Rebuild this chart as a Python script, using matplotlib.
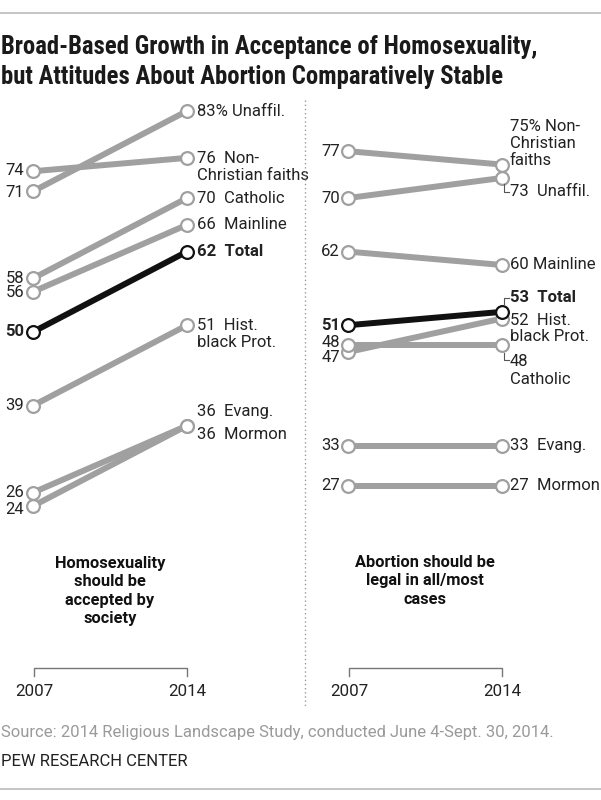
import matplotlib
matplotlib.use("Agg")
import matplotlib.pyplot as plt
from matplotlib import font_manager as fm
from matplotlib.lines import Line2D

# ---------------- data ----------------
years = [2007, 2014]

homo_groups = ["Unaffil.", "Non-Christian faiths", "Catholic", "Mainline", "Total",
               "Hist. black Prot.", "Evang.", "Mormon"]
homo_2007 = [71, 74, 58, 56, 50, 39, 26, 24]
homo_2014 = [83, 76, 70, 66, 62, 51, 36, 36]

abort_groups = ["Non-Christian faiths", "Unaffil.", "Mainline", "Total",
                "Hist. black Prot.", "Catholic", "Evang.", "Mormon"]
abort_2007 = [77, 70, 62, 51, 47, 48, 33, 27]
abort_2014 = [75, 73, 60, 53, 52, 48, 33, 27]

title = "Broad-Based Growth in Acceptance of Homosexuality,\nbut Attitudes About Abortion Comparatively Stable"
left_caption = "Homosexuality\nshould be\naccepted by\nsociety"
right_caption = "Abortion should be\nlegal in all/most\ncases"
source = "Source: 2014 Religious Landscape Study, conducted June 4-Sept. 30, 2014."
credit = "PEW RESEARCH CENTER"

# ---------------- fonts ----------------
weights = {}
for f in fm.fontManager.ttflist:
    if f.style == "normal":
        weights.setdefault(f.name, set()).add(f.weight if isinstance(f.weight, int) else 400)

def pick(cands):
    for c in cands:
        ws = weights.get(c, set())
        if 400 in ws and any(w >= 700 for w in ws):
            return c
    return "DejaVu Sans"

cond = pick(["Roboto Condensed", "Archivo Narrow", "Fira Sans Condensed", "IBM Plex Sans Condensed",
             "Barlow Semi Condensed", "PT Sans Narrow", "Encode Sans Condensed", "Asap Condensed",
             "Liberation Sans Narrow", "Roboto"])
body = pick(["Libre Franklin", "Public Sans", "Franklin Gothic Book", "Roboto"])
heavy = body

GRAY = "#a0a0a0"
DARK = "#222222"
W, H = 601, 800
fig = plt.figure(figsize=(W / 100, H / 100), dpi=100)
renderer = fig.canvas.get_renderer()

def fit_size(s, family, weight, target_px, base=12.0):
    t = fig.text(0, 0, s, fontsize=base, family=family, fontweight=weight)
    w = t.get_window_extent(renderer).width
    t.remove()
    return base * target_px / w

def fx(px):
    return px / W

def fy(py):
    return 1 - py / H

# axes: 2007->px x0, 2014->px x1; value 83 -> py 111, value 24 -> py 506
def make_ax(x0, x1):
    ax = fig.add_axes([fx(x0), fy(506), (x1 - x0) / W, (506 - 111) / H])
    ax.set_xlim(2007, 2014)
    ax.set_ylim(24, 83)
    ax.axis("off")
    return ax

axL = make_ax(33, 187)
axR = make_ax(348, 502)

def draw(ax, v07, v14, groups):
    order = [i for i, g in enumerate(groups) if g != "Total"] + [groups.index("Total")]
    for i in order:
        c = "#111111" if groups[i] == "Total" else GRAY
        z = 5 if groups[i] == "Total" else 3
        ax.plot(years, [v07[i], v14[i]], color=c, lw=4.3, solid_capstyle="butt",
                marker="o", ms=9.2, mfc="white", mec=c, mew=1.6, zorder=z, clip_on=False)

draw(axL, homo_2007, homo_2014, homo_groups)
draw(axR, abort_2007, abort_2014, abort_groups)

FS = fit_size("83% Unaffil.", body, "normal", 88)

def lab(ax, x, y, s, dx, dy, ha="left", bold=False, **kw):
    ax.annotate(s, (x, y), xytext=(dx, -dy), textcoords="offset pixels",
                ha=ha, va="center", fontsize=FS, color=DARK, family=body,
                fontweight="bold" if bold else "normal", annotation_clip=False, **kw)

# left panel, 2007 labels (pixel y-offsets)
left07_dy = [1, -1, 0, 1, 0, 0, 0, 4]
for v, g, d in zip(homo_2007, homo_groups, left07_dy):
    lab(axL, 2007, v, str(v), -9, d, ha="right", bold=(g == "Total"))

# left panel, 2014 labels
left14 = [("83% Unaffil.", 0), ("76  Non-\nChristian faiths", 9), ("70  Catholic", 0),
          ("66  Mainline", 0), ("62  Total", 0), ("51  Hist.\nblack Prot.", 9),
          ("36  Evang.", -14), ("36  Mormon", 9)]
for v, g, (s, d) in zip(homo_2014, homo_groups, left14):
    lab(axL, 2014, v, s, 10, d, bold=(g == "Total"), linespacing=1.15)

# right panel, 2007 labels
right07_dy = [0, 0, 0, 0, 5, -3, 0, 0]
for v, g, d in zip(abort_2007, abort_groups, right07_dy):
    lab(axR, 2007, v, str(v), -8, d, ha="right", bold=(g == "Total"))

# right panel, 2014 labels
right14 = [("75% Non-\nChristian\nfaiths", -21), ("73  Unaffil.", 14), ("60 Mainline", 0),
           ("53  Total", -14), ("52  Hist.\nblack Prot.", 10), ("48\nCatholic", 25),
           ("33  Evang.", 0), ("27  Mormon", 0)]
for v, g, (s, d) in zip(abort_2014, abort_groups, right14):
    lab(axR, 2014, v, s, 8, d, bold=(g == "Total"),
        linespacing=1.3 if s.startswith("48") else 1.15)

# small leader brackets (pixel geometry)
def seg(xs, ys, c="#555555", lw=0.8):
    fig.add_artist(Line2D([fx(x) for x in xs], [fy(y) for y in ys], color=c, lw=lw))

seg([504, 504, 509], [184, 192, 192])   # 73 Unaffil.
seg([504, 504, 509], [304, 298, 298])   # 53 Total
seg([504, 504, 509], [353, 360, 360])   # 48 Catholic

# captions (first line centred at y=561, 20 px line pitch)
CS = fit_size("Homosexuality", heavy, "bold", 110)
for cx, txt in [(110, left_caption), (425, right_caption)]:
    n = txt.count("\n") + 1
    fig.text(fx(cx), fy(561 + (n - 1) * 10), txt, ha="center", va="center", fontsize=CS,
             fontweight="bold", family=heavy, color="#111111", linespacing=1.3)

# year brackets
YS = fit_size("2007", body, "normal", 38)
for a, b in [(34, 187), (349, 502)]:
    seg([a, a, b, b], [676, 668, 668, 676], c="#777777", lw=1.0)
    fig.text(fx(a), fy(691), "2007", ha="center", va="center", fontsize=YS, family=body, color=DARK)
    fig.text(fx(b), fy(691), "2014", ha="center", va="center", fontsize=YS, family=body, color=DARK)

# dotted divider
fig.add_artist(Line2D([fx(305), fx(305)], [fy(100), fy(706)], color="#999999", lw=1.0,
                      linestyle=(0, (1, 2))))

# title, frame lines, source
fig.add_artist(Line2D([0, 1], [fy(13), fy(13)], color="#bbbbbb", lw=1.2))
fig.add_artist(Line2D([0, 1], [fy(789), fy(789)], color="#bbbbbb", lw=1.2))
TS = fit_size(title.split("\n")[0], cond, "bold", 538)
fig.text(fx(1), fy(62), title, ha="left", va="center", fontsize=TS, fontweight="bold",
         family=cond, color="#1a1a1a", linespacing=1.3)
SS = fit_size(source, body, "normal", 552)
fig.text(fx(1), fy(732), source, ha="left", va="center", fontsize=SS, family=body, color="#9a9a9a")
fig.text(fx(1), fy(762), credit, ha="left", va="center", fontsize=SS, family=body, color="#222222")

fig.savefig("out.png", dpi=100, facecolor="white")
